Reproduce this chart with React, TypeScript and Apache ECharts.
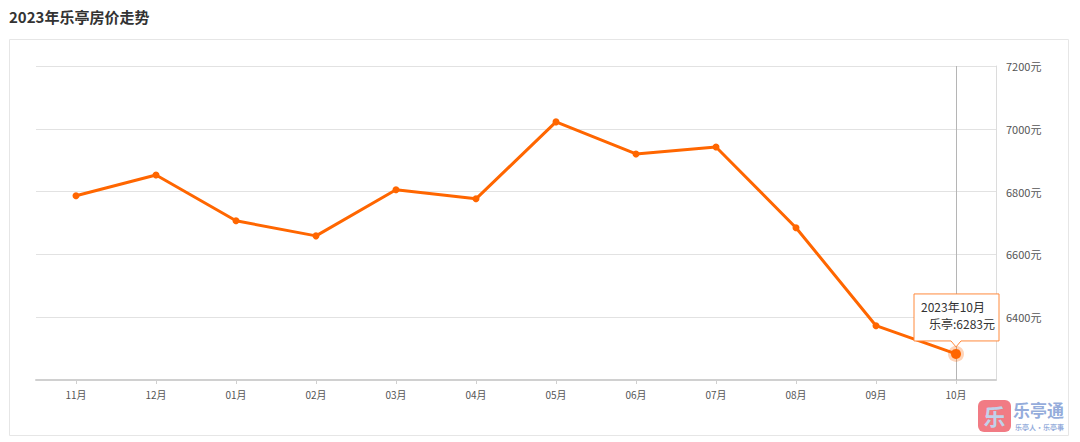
import React, { useEffect, useRef } from "react";
import * as echarts from "echarts";

const title = "2023年乐亭房价走势";
const seriesName = "乐亭";
const year = "2023";
const months = ["11月", "12月", "01月", "02月", "03月", "04月", "05月", "06月", "07月", "08月", "09月", "10月"];
const prices = [6787, 6853, 6707, 6659, 6806, 6777, 7022, 6920, 6942, 6685, 6373, 6283];
const yMin = 6200;
const yMax = 7200;
const yStep = 200;

const ORANGE = "#ff6600";
const FONT = "'Noto Sans CJK SC', 'Noto Sans', sans-serif";

export default function App() {
  const ref = useRef<HTMLDivElement>(null);
  useEffect(() => {
    if (!ref.current) return;
    const chart = echarts.init(ref.current, null, { renderer: "svg" });
    const lastIdx = prices.length - 1;
    chart.setOption({
      animation: false,
      backgroundColor: "#fff",
      textStyle: { fontFamily: FONT },
      grid: { left: 36, right: 84, top: 66, bottom: 62 },
      xAxis: {
        type: "category",
        data: months,
        boundaryGap: true,
        axisLine: { show: true, lineStyle: { color: "#d0d0d0", width: 2 } },
        axisTick: { show: true, alignWithLabel: true, length: 4, lineStyle: { color: "#d0d0d0" } },
        axisLabel: { color: "#555", fontSize: 10, margin: 9, fontFamily: FONT },
        splitLine: { show: false },
      },
      yAxis: {
        type: "value",
        position: "right",
        min: yMin,
        max: yMax,
        interval: yStep,
        axisLine: { show: true, lineStyle: { color: "#dcdcdc", width: 1 } },
        axisTick: { show: false },
        axisLabel: {
          color: "#555",
          fontSize: 11,
          margin: 10,
          showMinLabel: false,
          formatter: (v: number) => `${v}元`,
          fontFamily: FONT,
        },
        splitLine: { show: true, lineStyle: { color: "#e2e2e2", width: 1 } },
      },
      series: [
        {
          name: seriesName,
          type: "line",
          data: prices.map((v, i) =>
            i === lastIdx
              ? {
                  value: v,
                  symbolSize: 10,
                  itemStyle: { color: ORANGE, borderColor: "rgba(255,102,0,0.28)", borderWidth: 6 },
                }
              : v
          ),
          symbol: "circle",
          symbolSize: 7,
          showSymbol: true,
          lineStyle: { color: ORANGE, width: 3 },
          itemStyle: { color: ORANGE },
          markLine: {
            silent: true,
            symbol: "none",
            label: { show: false },
            lineStyle: { color: "#b5b5b5", width: 1, type: "solid" },
            data: [{ xAxis: months[lastIdx] }],
            z: 1,
          },
        },
      ],
    });

    const [px, py] = chart.convertToPixel({ gridIndex: 0 }, [lastIdx, prices[lastIdx]]) as number[];
    const l = px - 42, r = px + 43, t = py - 60, b = py - 13;
    chart.setOption({
      graphic: [
        {
          type: "text",
          left: 9,
          top: 9,
          style: { text: title, fontSize: 15, fontWeight: "bold", fill: "#333", fontFamily: FONT },
        },
        {
          type: "rect",
          shape: { x: 9.5, y: 39.5, width: 1059, height: 396 },
          style: { fill: "none", stroke: "#e6e6e6", lineWidth: 1 },
          silent: true,
        },
        {
          type: "polygon",
          z: 100,
          shape: {
            points: [
              [l, t], [r, t], [r, b], [px + 5, b], [px, b + 6], [px - 5, b], [l, b],
            ],
          },
          style: { fill: "#fff", stroke: "#ff8a3d", lineWidth: 1 },
        },
        {
          type: "text",
          z: 101,
          x: px - 35,
          y: t + 13,
          style: { text: `${year}年${months[lastIdx]}`, fontSize: 12, fill: "#333", fontFamily: FONT, verticalAlign: "middle" },
        },
        {
          type: "text",
          z: 101,
          x: px - 27,
          y: t + 30,
          style: { text: `${seriesName}:${prices[lastIdx]}元`, fontSize: 12, fill: "#333", fontFamily: FONT, verticalAlign: "middle" },
        },
        {
          type: "group",
          x: 978,
          y: 400,
          z: 50,
          children: [
            { type: "rect", shape: { x: 0, y: 0, width: 33, height: 32, r: 6 }, style: { fill: "rgba(238,100,110,0.85)" } },
            { type: "text", x: 16.5, y: 15, style: { text: "乐", fontSize: 22, fill: "rgba(190,215,240,0.95)", fontWeight: "bold", align: "center", verticalAlign: "middle", fontFamily: FONT } },
            { type: "text", x: 35, y: 0, style: { text: "乐亭通", fontSize: 17, lineHeight: 18, fill: "rgba(120,150,210,0.8)", fontWeight: "bold", fontFamily: FONT } },
            { type: "text", x: 37, y: 23, style: { text: "乐亭人·乐亭事", fontSize: 7, lineHeight: 8, fill: "rgba(120,150,210,0.8)", fontWeight: "bold", fontFamily: FONT } },
          ],
        },
      ],
    });
    return () => chart.dispose();
  }, []);
  return (
    <div
      ref={ref}
      style={{ width: 1080, height: 442, position: "fixed", left: 0, top: 0, background: "#fff" }}
    />
  );
}
